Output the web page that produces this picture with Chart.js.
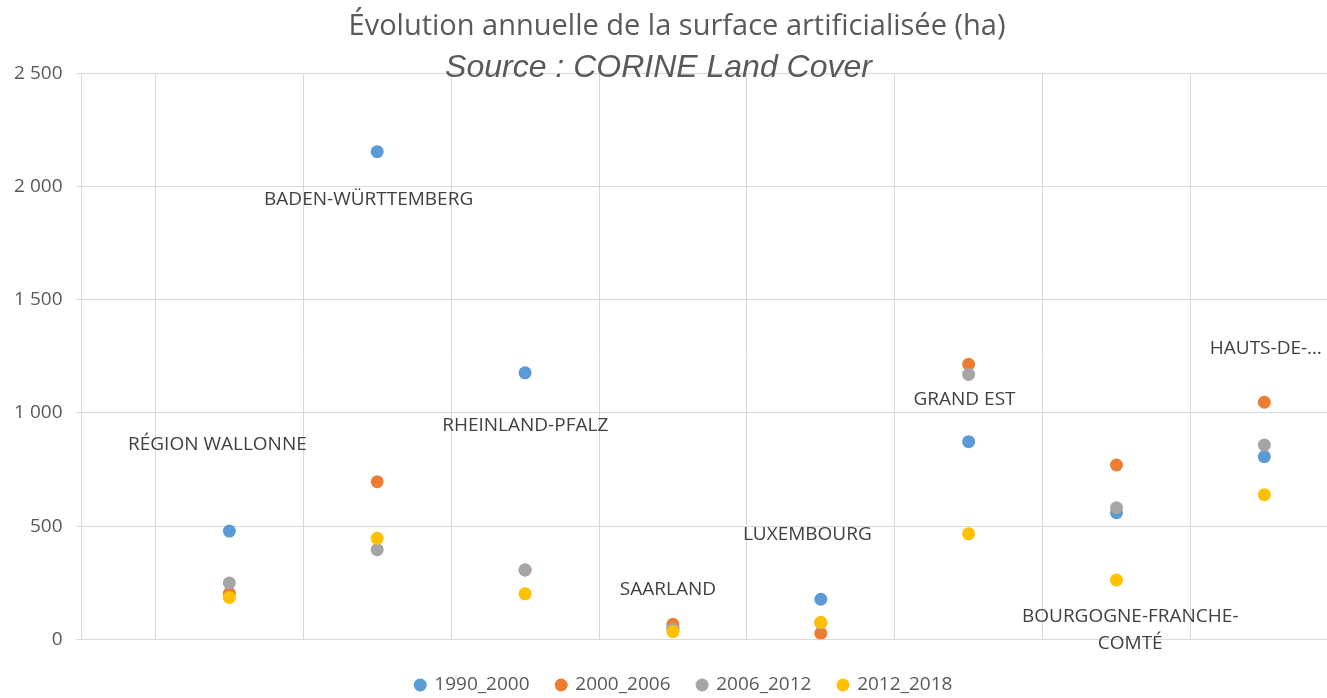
<!DOCTYPE html>
<html>
<head>
<meta charset="utf-8">
<script src="https://cdn.jsdelivr.net/npm/chart.js@4.4.1/dist/chart.umd.min.js"></script>
<style>
  html, body { margin: 0; padding: 0; background: #ffffff; overflow: hidden; }
  #wrap { width: 1368px; height: 698px; }
</style>
</head>
<body>
<div id="wrap"><canvas id="c" width="1368" height="698"></canvas></div>
<script>
// ---- Data ----
const categories = ['RÉGION WALLONNE', 'BADEN-WÜRTTEMBERG', 'RHEINLAND-PFALZ', 'SAARLAND',
                    'LUXEMBOURG', 'GRAND EST', 'BOURGOGNE-FRANCHE-COMTÉ', 'HAUTS-DE-FRANCE'];
const categoryLabels = ['RÉGION WALLONNE', 'BADEN-WÜRTTEMBERG', 'RHEINLAND-PFALZ', 'SAARLAND',
                        'LUXEMBOURG', 'GRAND EST', ['BOURGOGNE-FRANCHE-', 'COMTÉ'], 'HAUTS-DE-…'];
const seriesNames = ['1990_2000', '2000_2006', '2006_2012', '2012_2018'];
const values1990_2000 = [478, 2154, 1177, 50, 177, 873, 559, 807];
const values2000_2006 = [203, 696, 306, 66, 26, 1215, 770, 1047];
const values2006_2012 = [249, 396, 306, 45, 72, 1170, 581, 858];
const values2012_2018 = [185, 446, 201, 34, 75, 466, 262, 639];
const yTicks = [0, 500, 1000, 1500, 2000, 2500];
const titleText = 'Évolution annuelle de la surface artificialisée (ha)';
const subtitleText = 'Source : CORINE Land Cover';

// ---- Styling ----
const colors = ['#5B9BD5', '#ED7D31', '#A5A5A5', '#FFC000'];
const seriesValues = [values1990_2000, values2000_2006, values2006_2012, values2012_2018];

// label anchors in data space (x = category position, y = value units)
const labelAnchors = [
  {x: 0.919, y: 858}, {x: 1.942, y: 1943}, {x: 3.001, y: 943}, {x: 3.966, y: 221},
  {x: 4.909, y: 464}, {x: 5.972, y: 1057}, {x: 7.093, y: 41}, {x: 8.01, y: 1282}
];

const fmt = v => String(v).replace(/\B(?=(\d{3})+(?!\d))/g, ' ');

const datasets = seriesNames.map((name, s) => ({
  label: name,
  order: seriesNames.length - 1 - s,
  data: seriesValues[s].map((v, i) => ({x: i + 1, y: v})),
  backgroundColor: colors[s],
  borderColor: colors[s],
  pointBackgroundColor: colors[s],
  pointBorderColor: colors[s],
  pointBorderWidth: 0,
  pointRadius: 6.5,
  pointHoverRadius: 6.5,
  pointStyle: 'circle',
  showLine: false
}));

const textPlugin = {
  id: 'textPlugin',
  afterDraw(chart) {
    const ctx = chart.ctx;
    const xs = chart.scales.x, ys = chart.scales.y;
    ctx.save();
    // region labels
    ctx.font = '19px "Open Sans"';
    ctx.fillStyle = '#404040';
    ctx.textAlign = 'center';
    ctx.textBaseline = 'middle';
    categoryLabels.forEach((lab, i) => {
      const a = labelAnchors[i];
      const px = xs.getPixelForValue(a.x);
      const py = ys.getPixelForValue(a.y);
      const lines = Array.isArray(lab) ? lab : [lab];
      const lh = 26.6;
      lines.forEach((ln, k) => {
        ctx.fillText(ln, px, py + (k - (lines.length - 1) / 2) * lh);
      });
    });
    // title
    ctx.fillStyle = '#595959';
    ctx.textBaseline = 'alphabetic';
    ctx.font = '29px "Open Sans"';
    ctx.fillText(titleText, 677, 35);
    ctx.font = 'italic 32px "Liberation Sans"';
    ctx.fillText(subtitleText, 658.5, 77);
    ctx.restore();
  }
};

new Chart(document.getElementById('c'), {
  type: 'scatter',
  data: { datasets },
  options: {
    responsive: false,
    animation: false,
    devicePixelRatio: 1,
    layout: { padding: { top: 73.3, left: 0, right: 0, bottom: 0 } },
    plugins: {
      title: { display: false },
      tooltip: { enabled: false },
      legend: {
        position: 'bottom',
        align: 'center',
        maxHeight: 49.5,
        labels: {
          usePointStyle: true,
          pointStyle: 'circle',
          boxWidth: 9.2,
          boxHeight: 9.2,
          padding: 27,
          color: '#595959',
          font: { family: '"Open Sans"', size: 19 },
          sort: (a, b) => a.datasetIndex - b.datasetIndex
        }
      }
    },
    scales: {
      x: {
        type: 'linear',
        min: 0,
        max: 8.657,
        afterBuildTicks(scale) {
          scale.ticks = categories.map((c, i) => ({ value: i + 0.5 })).concat([{ value: categories.length + 0.5 }]);
        },
        afterFit(scale) { scale.height = 9.2; },
        ticks: { display: false },
        grid: { color: '#d9d9d9', lineWidth: 1, drawTicks: false },
        border: { display: false }
      },
      y: {
        type: 'linear',
        min: 0,
        max: 2500,
        afterBuildTicks(scale) { scale.ticks = yTicks.map(v => ({ value: v })); },
        afterFit(scale) { scale.width = 81.5; },
        ticks: {
          padding: 14,
          color: '#595959',
          font: { family: '"Open Sans"', size: 19 },
          callback: v => fmt(v)
        },
        grid: { color: '#d9d9d9', lineWidth: 1, drawTicks: true, tickLength: 5 },
        border: { display: true, color: '#d9d9d9', width: 1 }
      }
    }
  },
  plugins: [textPlugin]
});
</script>
</body>
</html>
